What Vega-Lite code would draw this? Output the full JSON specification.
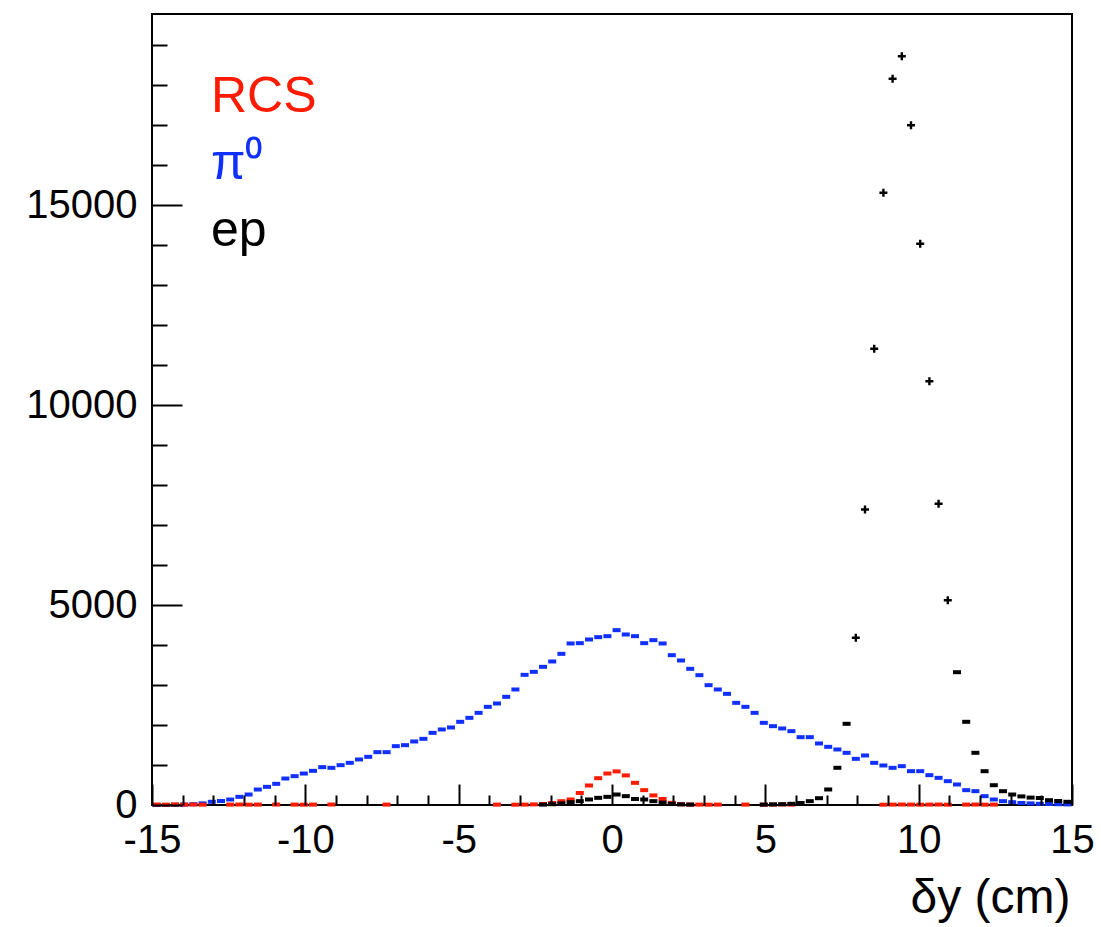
{
  "$schema": "https://vega.github.io/schema/vega-lite/v6.json",
  "width": 920,
  "height": 791,
  "autosize": "none",
  "padding": {"left": 152, "top": 14, "right": 29, "bottom": 122},
  "background": "white",
  "config": {
    "view": {"stroke": "black", "strokeWidth": 2},
    "font": "Liberation Sans"
  },
  "data": {
    "values": [
      {"x": -14.85, "s": "π⁰", "v": 0}, {"x": -14.55, "s": "π⁰", "v": 0}, {"x": -14.25, "s": "π⁰", "v": 5}, {"x": -13.95, "s": "π⁰", "v": 10},
      {"x": -13.65, "s": "π⁰", "v": 20}, {"x": -13.35, "s": "π⁰", "v": 40}, {"x": -13.05, "s": "π⁰", "v": 80}, {"x": -12.75, "s": "π⁰", "v": 100},
      {"x": -12.45, "s": "π⁰", "v": 137}, {"x": -12.15, "s": "π⁰", "v": 204}, {"x": -11.85, "s": "π⁰", "v": 262}, {"x": -11.55, "s": "π⁰", "v": 387},
      {"x": -11.25, "s": "π⁰", "v": 454}, {"x": -10.95, "s": "π⁰", "v": 529}, {"x": -10.65, "s": "π⁰", "v": 662}, {"x": -10.35, "s": "π⁰", "v": 721},
      {"x": -10.05, "s": "π⁰", "v": 787}, {"x": -9.75, "s": "π⁰", "v": 854}, {"x": -9.45, "s": "π⁰", "v": 946}, {"x": -9.15, "s": "π⁰", "v": 929},
      {"x": -8.85, "s": "π⁰", "v": 996}, {"x": -8.55, "s": "π⁰", "v": 1054}, {"x": -8.25, "s": "π⁰", "v": 1138}, {"x": -7.95, "s": "π⁰", "v": 1204},
      {"x": -7.65, "s": "π⁰", "v": 1321}, {"x": -7.35, "s": "π⁰", "v": 1321}, {"x": -7.05, "s": "π⁰", "v": 1471}, {"x": -6.75, "s": "π⁰", "v": 1496},
      {"x": -6.45, "s": "π⁰", "v": 1588}, {"x": -6.15, "s": "π⁰", "v": 1654}, {"x": -5.85, "s": "π⁰", "v": 1804}, {"x": -5.55, "s": "π⁰", "v": 1888},
      {"x": -5.25, "s": "π⁰", "v": 1938}, {"x": -4.95, "s": "π⁰", "v": 2079}, {"x": -4.65, "s": "π⁰", "v": 2179}, {"x": -4.35, "s": "π⁰", "v": 2304},
      {"x": -4.05, "s": "π⁰", "v": 2454}, {"x": -3.75, "s": "π⁰", "v": 2538}, {"x": -3.45, "s": "π⁰", "v": 2704}, {"x": -3.15, "s": "π⁰", "v": 2888},
      {"x": -2.85, "s": "π⁰", "v": 3254}, {"x": -2.55, "s": "π⁰", "v": 3329}, {"x": -2.25, "s": "π⁰", "v": 3454}, {"x": -1.95, "s": "π⁰", "v": 3588},
      {"x": -1.65, "s": "π⁰", "v": 3779}, {"x": -1.35, "s": "π⁰", "v": 4038}, {"x": -1.05, "s": "π⁰", "v": 4046}, {"x": -0.75, "s": "π⁰", "v": 4138},
      {"x": -0.45, "s": "π⁰", "v": 4196}, {"x": -0.15, "s": "π⁰", "v": 4221}, {"x": 0.15, "s": "π⁰", "v": 4371}, {"x": 0.45, "s": "π⁰", "v": 4263},
      {"x": 0.75, "s": "π⁰", "v": 4221}, {"x": 1.05, "s": "π⁰", "v": 4046}, {"x": 1.35, "s": "π⁰", "v": 4121}, {"x": 1.65, "s": "π⁰", "v": 4038},
      {"x": 1.95, "s": "π⁰", "v": 3746}, {"x": 2.25, "s": "π⁰", "v": 3613}, {"x": 2.55, "s": "π⁰", "v": 3404}, {"x": 2.85, "s": "π⁰", "v": 3246},
      {"x": 3.15, "s": "π⁰", "v": 2996}, {"x": 3.45, "s": "π⁰", "v": 2888}, {"x": 3.75, "s": "π⁰", "v": 2779}, {"x": 4.05, "s": "π⁰", "v": 2554},
      {"x": 4.35, "s": "π⁰", "v": 2454}, {"x": 4.65, "s": "π⁰", "v": 2304}, {"x": 4.95, "s": "π⁰", "v": 2054}, {"x": 5.25, "s": "π⁰", "v": 1971},
      {"x": 5.55, "s": "π⁰", "v": 1913}, {"x": 5.85, "s": "π⁰", "v": 1846}, {"x": 6.15, "s": "π⁰", "v": 1696}, {"x": 6.45, "s": "π⁰", "v": 1696},
      {"x": 6.75, "s": "π⁰", "v": 1538}, {"x": 7.05, "s": "π⁰", "v": 1454}, {"x": 7.35, "s": "π⁰", "v": 1388}, {"x": 7.65, "s": "π⁰", "v": 1304},
      {"x": 7.95, "s": "π⁰", "v": 1154}, {"x": 8.25, "s": "π⁰", "v": 1238}, {"x": 8.55, "s": "π⁰", "v": 1054}, {"x": 8.85, "s": "π⁰", "v": 988},
      {"x": 9.15, "s": "π⁰", "v": 929}, {"x": 9.45, "s": "π⁰", "v": 971}, {"x": 9.75, "s": "π⁰", "v": 846}, {"x": 10.05, "s": "π⁰", "v": 846},
      {"x": 10.35, "s": "π⁰", "v": 746}, {"x": 10.65, "s": "π⁰", "v": 679}, {"x": 10.95, "s": "π⁰", "v": 596}, {"x": 11.25, "s": "π⁰", "v": 513},
      {"x": 11.55, "s": "π⁰", "v": 371}, {"x": 11.85, "s": "π⁰", "v": 346}, {"x": 12.15, "s": "π⁰", "v": 221}, {"x": 12.45, "s": "π⁰", "v": 138},
      {"x": 12.75, "s": "π⁰", "v": 96}, {"x": 13.05, "s": "π⁰", "v": 70}, {"x": 13.35, "s": "π⁰", "v": 50}, {"x": 13.65, "s": "π⁰", "v": 40},
      {"x": 13.95, "s": "π⁰", "v": 30}, {"x": 14.25, "s": "π⁰", "v": 25}, {"x": 14.55, "s": "π⁰", "v": 20}, {"x": 14.85, "s": "π⁰", "v": 15},

      {"x": -14.85, "s": "RCS", "v": 12}, {"x": -14.55, "s": "RCS", "v": 8}, {"x": -14.25, "s": "RCS", "v": 15}, {"x": -13.95, "s": "RCS", "v": 10},
      {"x": -13.65, "s": "RCS", "v": 12}, {"x": -13.35, "s": "RCS", "v": 8}, {"x": -12.45, "s": "RCS", "v": 10}, {"x": -12.15, "s": "RCS", "v": 12},
      {"x": -11.85, "s": "RCS", "v": 8}, {"x": -11.55, "s": "RCS", "v": 10}, {"x": -10.95, "s": "RCS", "v": 12}, {"x": -10.35, "s": "RCS", "v": 10},
      {"x": -10.05, "s": "RCS", "v": 8}, {"x": -9.75, "s": "RCS", "v": 10}, {"x": -9.15, "s": "RCS", "v": 12}, {"x": -7.35, "s": "RCS", "v": 10},
      {"x": -3.75, "s": "RCS", "v": 10}, {"x": -3.15, "s": "RCS", "v": 8}, {"x": -2.85, "s": "RCS", "v": 10}, {"x": -2.55, "s": "RCS", "v": 15},
      {"x": -2.25, "s": "RCS", "v": 25}, {"x": -1.95, "s": "RCS", "v": 50}, {"x": -1.65, "s": "RCS", "v": 95}, {"x": -1.35, "s": "RCS", "v": 138},
      {"x": -1.05, "s": "RCS", "v": 300}, {"x": -0.75, "s": "RCS", "v": 488}, {"x": -0.45, "s": "RCS", "v": 670}, {"x": -0.15, "s": "RCS", "v": 787},
      {"x": 0.15, "s": "RCS", "v": 840}, {"x": 0.45, "s": "RCS", "v": 740}, {"x": 0.75, "s": "RCS", "v": 554}, {"x": 1.05, "s": "RCS", "v": 371},
      {"x": 1.35, "s": "RCS", "v": 240}, {"x": 1.65, "s": "RCS", "v": 150}, {"x": 1.95, "s": "RCS", "v": 54}, {"x": 2.25, "s": "RCS", "v": 20},
      {"x": 2.55, "s": "RCS", "v": 12}, {"x": 2.85, "s": "RCS", "v": 10}, {"x": 3.15, "s": "RCS", "v": 8}, {"x": 3.45, "s": "RCS", "v": 10},
      {"x": 4.35, "s": "RCS", "v": 10}, {"x": 4.95, "s": "RCS", "v": 8}, {"x": 5.25, "s": "RCS", "v": 10}, {"x": 5.55, "s": "RCS", "v": 12},
      {"x": 5.85, "s": "RCS", "v": 10}, {"x": 8.85, "s": "RCS", "v": 8}, {"x": 9.15, "s": "RCS", "v": 10}, {"x": 9.45, "s": "RCS", "v": 12},
      {"x": 9.75, "s": "RCS", "v": 10}, {"x": 10.05, "s": "RCS", "v": 8}, {"x": 10.35, "s": "RCS", "v": 10}, {"x": 10.65, "s": "RCS", "v": 12},
      {"x": 10.95, "s": "RCS", "v": 8}, {"x": 11.55, "s": "RCS", "v": 10}, {"x": 11.85, "s": "RCS", "v": 12}, {"x": 12.15, "s": "RCS", "v": 8},
      {"x": 12.45, "s": "RCS", "v": 10},

      {"x": -2.25, "s": "ep", "v": 10}, {"x": -1.95, "s": "ep", "v": 20}, {"x": -1.65, "s": "ep", "v": 40}, {"x": -1.35, "s": "ep", "v": 70},
      {"x": -1.05, "s": "ep", "v": 96}, {"x": -0.75, "s": "ep", "v": 138}, {"x": -0.45, "s": "ep", "v": 179}, {"x": -0.15, "s": "ep", "v": 204},
      {"x": 0.15, "s": "ep", "v": 262}, {"x": 0.45, "s": "ep", "v": 221}, {"x": 0.75, "s": "ep", "v": 150}, {"x": 1.05, "s": "ep", "v": 138},
      {"x": 1.35, "s": "ep", "v": 96}, {"x": 1.65, "s": "ep", "v": 60}, {"x": 1.95, "s": "ep", "v": 30}, {"x": 2.25, "s": "ep", "v": 15},
      {"x": 2.55, "s": "ep", "v": 10},
      {"x": 4.95, "s": "ep", "v": 10}, {"x": 5.25, "s": "ep", "v": 15}, {"x": 5.55, "s": "ep", "v": 20}, {"x": 5.85, "s": "ep", "v": 30},
      {"x": 6.15, "s": "ep", "v": 50}, {"x": 6.45, "s": "ep", "v": 96}, {"x": 6.75, "s": "ep", "v": 170}, {"x": 7.05, "s": "ep", "v": 388},
      {"x": 7.35, "s": "ep", "v": 930}, {"x": 7.65, "s": "ep", "v": 2030}, {"x": 7.95, "s": "ep", "v": 4180}, {"x": 8.25, "s": "ep", "v": 7388},
      {"x": 8.55, "s": "ep", "v": 11405}, {"x": 8.85, "s": "ep", "v": 15305}, {"x": 9.15, "s": "ep", "v": 18155}, {"x": 9.45, "s": "ep", "v": 18720},
      {"x": 9.75, "s": "ep", "v": 16995}, {"x": 10.05, "s": "ep", "v": 14030}, {"x": 10.35, "s": "ep", "v": 10595}, {"x": 10.65, "s": "ep", "v": 7530},
      {"x": 10.95, "s": "ep", "v": 5120}, {"x": 11.25, "s": "ep", "v": 3320}, {"x": 11.55, "s": "ep", "v": 2080}, {"x": 11.85, "s": "ep", "v": 1305},
      {"x": 12.15, "s": "ep", "v": 845}, {"x": 12.45, "s": "ep", "v": 495}, {"x": 12.75, "s": "ep", "v": 345}, {"x": 13.05, "s": "ep", "v": 262},
      {"x": 13.35, "s": "ep", "v": 215}, {"x": 13.65, "s": "ep", "v": 185}, {"x": 13.95, "s": "ep", "v": 175}, {"x": 14.25, "s": "ep", "v": 120},
      {"x": 14.55, "s": "ep", "v": 100}, {"x": 14.85, "s": "ep", "v": 80}
    ]
  },
  "layer": [
    {
      "mark": {"type": "point", "opacity": 0},
      "encoding": {
        "x": {
          "field": "x", "type": "quantitative",
          "scale": {"domain": [-15, 15], "nice": false, "zero": false},
          "axis": {
            "orient": "bottom",
            "values": [-15, -10, -5, 0, 5, 10, 15],
            "domain": false, "grid": false, "ticks": true, "zindex": 1,
            "tickSize": -21, "tickWidth": 2, "tickColor": "black", "tickOpacity": 1,
            "labelFont": "Liberation Sans", "labelFontSize": 40, "labelColor": "black",
            "labelBaseline": "alphabetic", "labelPadding": 68,
            "labelFlush": false, "labelOverlap": false,
            "labelExpr": "'' + datum.value",
            "title": "δy (cm)", "titleFont": "Liberation Sans", "titleFontSize": 48,
            "titleFontWeight": "normal", "titleColor": "black",
            "titleAlign": "right", "titleAnchor": "end", "titleBaseline": "alphabetic",
            "titleX": 918, "titleY": 107
          }
        },
        "y": {
          "field": "v", "type": "quantitative",
          "scale": {"domain": [0, 19775], "nice": false, "zero": true},
          "axis": {
            "orient": "left",
            "values": [0, 5000, 10000, 15000],
            "domain": false, "grid": false, "ticks": true, "zindex": 1,
            "tickSize": -30, "tickWidth": 2, "tickColor": "black",
            "labelFont": "Liberation Sans", "labelFontSize": 40, "labelColor": "black",
            "labelPadding": 45, "labelFlush": false, "labelOverlap": false,
            "labelExpr": "'' + datum.value",
            "title": null
          }
        }
      }
    },
    {
      "mark": {"type": "point", "filled": true, "opacity": 1, "size": 64, "strokeWidth": 0},
      "encoding": {
        "x": {
          "field": "x", "type": "quantitative",
          "scale": {"domain": [-15, 15], "nice": false, "zero": false},
          "axis": {
            "orient": "bottom",
            "values": [-14, -13, -12, -11, -9, -8, -7, -6, -4, -3, -2, -1, 1, 2, 3, 4, 6, 7, 8, 9, 11, 12, 13, 14],
            "domain": false, "grid": false, "labels": false, "ticks": true, "zindex": 1,
            "tickSize": -10, "tickWidth": 2, "tickColor": "black", "tickOpacity": 1,
            "title": null
          }
        },
        "y": {
          "field": "v", "type": "quantitative",
          "scale": {"domain": [0, 19775], "nice": false, "zero": true},
          "axis": {
            "orient": "left",
            "values": [1000, 2000, 3000, 4000, 6000, 7000, 8000, 9000, 11000, 12000, 13000, 14000, 16000, 17000, 18000, 19000],
            "domain": false, "grid": false, "labels": false, "ticks": true, "zindex": 1,
            "tickSize": -15, "tickWidth": 2, "tickColor": "black",
            "title": null
          }
        },
        "color": {
          "field": "s", "type": "nominal",
          "scale": {"domain": ["RCS", "π⁰", "ep"], "range": ["#ff1a00", "#1030ff", "#000000"]},
          "legend": {
            "orient": "none", "legendX": 9, "legendY": 58,
            "title": null,
            "labelFont": "Liberation Sans", "labelFontSize": 50,
            "symbolOpacity": 0, "symbolSize": 0, "symbolStrokeWidth": 0,
            "labelOffset": 0, "rowPadding": 17, "padding": 0,
            "encode": {"labels": {"update": {"fill": {"scale": "color", "field": "value"}}}}
          }
        },
        "shape": {
          "condition": {"test": "datum.s === 'ep' && datum.v > 4000", "value": "M-1,-0.3L1,-0.3L1,0.3L-1,0.3Z M-0.3,-1L0.3,-1L0.3,1L-0.3,1Z"},
          "value": "M-1,-0.5L1,-0.5L1,0.5L-1,0.5Z"
        }
      }
    }
  ],
  "resolve": {"axis": {"x": "independent", "y": "independent"}}
}
